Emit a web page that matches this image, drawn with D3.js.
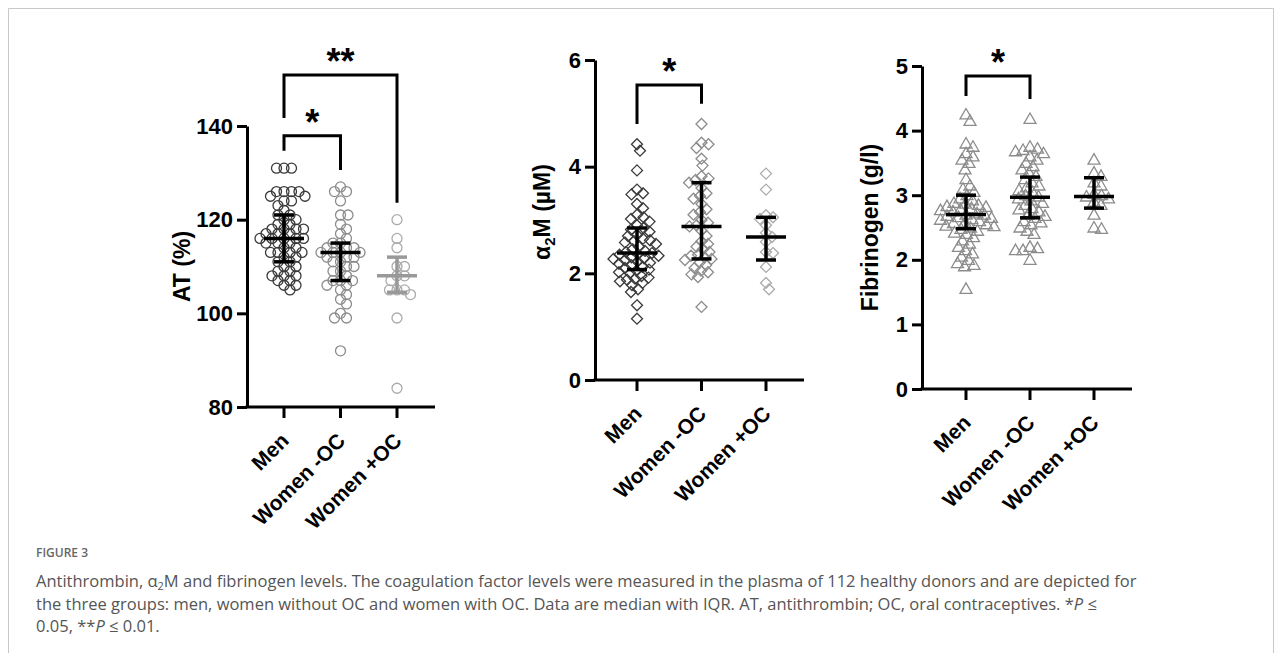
<!DOCTYPE html>
<html>
<head>
<meta charset="utf-8">
<script src="https://cdn.jsdelivr.net/npm/d3@7"></script>
<style>
  body { margin: 0; background: #fff; }
  svg { display: block; }
</style>
</head>
<body>
<div id="chart"></div>
<script>
// groups
const groups = ["Men", "Women -OC", "Women +OC"];

// antithrombin (%)
const atMen = [131,131,131,126,126,126,126,125,125,124,124,123,122,121,121,120,120,119,119,118,118,118,118,117,117,117,116,116,116,116,116,115,115,115,114,114,113,113,113,113,112,112,111,111,110,110,109,109,108,108,108,107,107,106,106,105];
const atNoOC = [127,126,126,124,121,121,119,118,117,116,115,115,114,114,114,113,113,113,113,112,112,112,111,111,110,110,109,109,108,107,107,107,106,106,105,104,103,102,100,99,99,92];
const atOC = [120,116,114,110,110,108,108,107,105,105,105,104,99,84];
const atMedian = [116, 113, 108];
const atQ1 = [111, 107, 104.5];
const atQ3 = [121, 115, 112];

// alpha2-macroglobulin (uM)
const a2mMen = [4.42,4.3,3.93,3.57,3.5,3.48,3.3,3.22,3.1,3.05,3.02,2.97,2.9,2.85,2.82,2.78,2.72,2.7,2.65,2.62,2.6,2.58,2.55,2.5,2.45,2.42,2.4,2.38,2.36,2.35,2.33,2.3,2.28,2.27,2.25,2.22,2.2,2.18,2.15,2.12,2.1,2.07,2.05,2.02,2.0,1.95,1.92,1.9,1.88,1.85,1.82,1.78,1.7,1.65,1.4,1.15];
const a2mNoOC = [4.8,4.45,4.42,4.35,4.15,4.02,3.82,3.78,3.75,3.7,3.6,3.5,3.45,3.4,3.3,3.2,3.15,3.1,3.0,2.95,2.9,2.88,2.8,2.7,2.6,2.55,2.5,2.45,2.4,2.35,2.33,2.3,2.27,2.25,2.2,2.15,2.1,2.05,2.02,1.98,1.93,1.37];
const a2mOC = [3.87,3.57,3.09,3.05,3.02,2.76,2.68,2.59,2.4,2.38,2.12,1.82,1.7,2.9];
const a2mMedian = [2.38, 2.88, 2.68];
const a2mQ1 = [2.07, 2.27, 2.25];
const a2mQ3 = [2.85, 3.7, 3.05];

// fibrinogen (g/l)
const fibMen = [4.25,4.15,3.8,3.75,3.65,3.6,3.55,3.5,3.4,3.25,3.15,3.1,3.05,3.0,2.95,2.92,2.88,2.87,2.85,2.83,2.82,2.8,2.78,2.77,2.75,2.72,2.7,2.7,2.68,2.66,2.65,2.63,2.62,2.6,2.58,2.57,2.55,2.53,2.52,2.5,2.48,2.45,2.42,2.4,2.35,2.3,2.25,2.2,2.15,2.1,2.05,2.0,1.95,1.92,1.9,1.55];
const fibNoOC = [4.18,3.75,3.72,3.7,3.68,3.65,3.6,3.55,3.5,3.45,3.4,3.35,3.3,3.25,3.2,3.15,3.12,3.08,3.05,3.0,2.98,2.95,2.92,2.88,2.85,2.8,2.78,2.75,2.7,2.68,2.65,2.6,2.58,2.55,2.5,2.45,2.4,2.2,2.18,2.15,2.15,2.0];
const fibOC = [3.55,3.35,3.3,3.2,3.15,3.02,3.0,2.98,2.95,2.9,2.85,2.7,2.5,2.48];
const fibMedian = [2.7, 2.97, 2.98];
const fibQ1 = [2.48, 2.65, 2.8];
const fibQ3 = [3.0, 3.28, 3.27];

const captionTitle = "FIGURE 3";

const W = 1282, H = 653;
const svg = d3.select("#chart").append("svg")
  .attr("width", W).attr("height", H);

// figure frame
svg.append("path")
  .attr("d", `M8.5,${H}V8.5H1273.5V${H}`)
  .attr("fill", "none")
  .attr("stroke", "#c8c8c8")
  .attr("stroke-width", 1);

const shapes = {
  circle: "M5,0A5,5 0 1,1 -5,0A5,5 0 1,1 5,0Z",
  diamond: "M0,-5.5L5.5,0L0,5.5L-5.5,0Z",
  triangle: "M0,-6L6,4.5L-6,4.5Z"
};

const panels = [
  {
    series: [atMen, atNoOC, atOC], median: atMedian, q1: atQ1, q3: atQ3,
    domain: [80, 140], ticks: [80, 100, 120, 140],
    axisX: 247, yBottom: 407, yTop: 126, first: 284, last: 397,
    title: ["AT (%)"], titleX: 182, titleShift: 0,
    shape: "circle", minDist: 7.5,
    colors: ["#3a3a3a", "#8c8c8c", "#ababab"],
    barColors: ["#000", "#000", "#999"],
    brackets: [
      { a: 0, b: 1, top: 137.9, endA: 134.7, endB: 130.6, label: "*" },
      { a: 0, b: 2, top: 150.9, endA: 141.7, endB: 123.6, label: "**" }
    ]
  },
  {
    series: [a2mMen, a2mNoOC, a2mOC], median: a2mMedian, q1: a2mQ1, q3: a2mQ3,
    domain: [0, 6], ticks: [0, 2, 4, 6],
    axisX: 595, yBottom: 380, yTop: 60, first: 637, last: 766,
    title: ["α", "2", "M (µM)"], titleX: 542, titleShift: -8,
    shape: "diamond", minDist: 7,
    colors: ["#3a3a3a", "#8c8c8c", "#ababab"],
    barColors: ["#000", "#000", "#000"],
    brackets: [
      { a: 0, b: 1, top: 5.53, endA: 4.8, endB: 5.18, label: "*" }
    ]
  },
  {
    series: [fibMen, fibNoOC, fibOC], median: fibMedian, q1: fibQ1, q3: fibQ3,
    domain: [0, 5], ticks: [0, 1, 2, 3, 4, 5],
    axisX: 922, yBottom: 389, yTop: 66, first: 966, last: 1094,
    title: ["Fibrinogen (g/l)"], titleX: 870, titleShift: 0,
    shape: "triangle", minDist: 7.5,
    colors: ["#8c8c8c", "#8c8c8c", "#8c8c8c"],
    barColors: ["#000", "#000", "#000"],
    brackets: [
      { a: 0, b: 1, top: 4.845, endA: 4.535, endB: 4.49, label: "*" }
    ]
  }
];

// simple beeswarm: keep points at their value, push sideways until they clear neighbours
function swarm(vals, y, cx, minDist) {
  const pts = vals.map(v => ({ v, y: y(v) })).sort((a, b) => a.y - b.y);
  const placed = [];
  const step = 0.5;
  pts.forEach(p => {
    for (let k = 0; k < 400; k++) {
      const off = k === 0 ? 0 : (k % 2 ? 1 : -1) * Math.ceil(k / 2) * step;
      const x = cx + off;
      const ok = placed.every(q => (q.x - x) ** 2 + (q.y - p.y) ** 2 >= minDist * minDist);
      if (ok) { p.x = x; break; }
    }
    placed.push(p);
  });
  return placed;
}

const font = "'Liberation Sans', Arial, sans-serif";

panels.forEach(p => {
  const y = d3.scaleLinear().domain(p.domain).range([p.yBottom, p.yTop]);
  const x = d3.scalePoint().domain(groups).range([p.first, p.last]);
  const g = svg.append("g");

  // points
  p.series.forEach((vals, i) => {
    const pts = swarm(vals, y, x(groups[i]), p.minDist);
    g.append("g").selectAll("path")
      .data(pts)
      .enter().append("path")
      .attr("d", shapes[p.shape])
      .attr("transform", d => `translate(${d.x},${d.y})`)
      .attr("fill", "none")
      .attr("stroke", p.colors[i])
      .attr("stroke-width", 1.3);
  });

  // median with IQR
  groups.forEach((grp, i) => {
    const cx = x(grp);
    const eb = g.append("g")
      .attr("stroke", p.barColors[i])
      .attr("stroke-width", 3.5)
      .attr("fill", "none");
    eb.append("line").attr("x1", cx).attr("x2", cx)
      .attr("y1", y(p.q1[i])).attr("y2", y(p.q3[i]));
    eb.append("line").attr("x1", cx - 10).attr("x2", cx + 10)
      .attr("y1", y(p.q1[i])).attr("y2", y(p.q1[i]));
    eb.append("line").attr("x1", cx - 10).attr("x2", cx + 10)
      .attr("y1", y(p.q3[i])).attr("y2", y(p.q3[i]));
    eb.append("line").attr("x1", cx - 20).attr("x2", cx + 20)
      .attr("y1", y(p.median[i])).attr("y2", y(p.median[i]));
  });

  // y axis
  const yAxis = g.append("g")
    .attr("transform", `translate(${p.axisX},0)`)
    .call(d3.axisLeft(y).tickValues(p.ticks).tickFormat(d3.format("d"))
      .tickSize(10).tickSizeOuter(0).tickPadding(4));
  yAxis.select(".domain").attr("stroke", "#000").attr("stroke-width", 3);
  yAxis.selectAll(".tick line").attr("stroke", "#000").attr("stroke-width", 3);
  yAxis.selectAll(".tick text")
    .attr("fill", "#000")
    .style("font", `bold 22px ${font}`);

  // x axis
  const xEnd = p.last + 38;
  g.append("line")
    .attr("x1", p.axisX - 1.5).attr("x2", xEnd)
    .attr("y1", p.yBottom).attr("y2", p.yBottom)
    .attr("stroke", "#000").attr("stroke-width", 3);
  groups.forEach(grp => {
    const cx = x(grp);
    g.append("line")
      .attr("x1", cx).attr("x2", cx)
      .attr("y1", p.yBottom).attr("y2", p.yBottom + 11)
      .attr("stroke", "#000").attr("stroke-width", 3);
    g.append("text")
      .attr("transform", `translate(${cx + 6},${p.yBottom + 35}) rotate(-45)`)
      .attr("text-anchor", "end")
      .style("font", `bold 21px ${font}`)
      .text(grp);
  });

  // y title
  const midY = (p.yTop + p.yBottom) / 2 + p.titleShift;
  const t = g.append("text")
    .attr("transform", `translate(${p.titleX},${midY}) rotate(-90)`)
    .attr("text-anchor", "middle")
    .attr("dy", "0.35em")
    .style("font", `bold 23px ${font}`);
  if (p.title.length === 1) {
    t.text(p.title[0]);
  } else {
    t.append("tspan").text(p.title[0]);
    t.append("tspan").attr("font-size", "15px").attr("dy", "5").text(p.title[1]);
    t.append("tspan").attr("dy", "-5").text(p.title[2]);
  }

  // significance brackets
  p.brackets.forEach(b => {
    const xa = x(groups[b.a]), xb = x(groups[b.b]);
    g.append("path")
      .attr("d", `M${xa},${y(b.endA)}V${y(b.top)}H${xb}V${y(b.endB)}`)
      .attr("fill", "none")
      .attr("stroke", "#000")
      .attr("stroke-width", 3);
    g.append("text")
      .attr("x", (xa + xb) / 2)
      .attr("y", y(b.top) - 1)
      .attr("text-anchor", "middle")
      .style("font", `bold 36px ${font}`)
      .text(b.label);
  });
});

// caption
const cap = svg.append("g").style("font-family", "'Open Sans', 'Noto Sans', sans-serif").attr("fill", "#555");
cap.append("text")
  .attr("x", 36).attr("y", 557)
  .style("font-size", "12px")
  .style("font-weight", "600")
  .attr("fill", "#666")
  .text(captionTitle);

const capSize = "16.5px";
const l1 = cap.append("text").attr("x", 36).attr("y", 587).style("font-size", capSize);
l1.append("tspan").text("Antithrombin, α");
l1.append("tspan").attr("font-size", "11px").attr("dy", 3).text("2");
l1.append("tspan").attr("dy", -3).text("M and fibrinogen levels. The coagulation factor levels were measured in the plasma of 112 healthy donors and are depicted for");

const l2 = cap.append("text").attr("x", 36).attr("y", 609.5).style("font-size", capSize);
l2.append("tspan").text("the three groups: men, women without OC and women with OC. Data are median with IQR. AT, antithrombin; OC, oral contraceptives. *");
l2.append("tspan").style("font-style", "italic").text("P");
l2.append("tspan").text(" ≤");

const l3 = cap.append("text").attr("x", 36).attr("y", 632).style("font-size", capSize);
l3.append("tspan").text("0.05, **");
l3.append("tspan").style("font-style", "italic").text("P");
l3.append("tspan").text(" ≤ 0.01.");
</script>
</body>
</html>
